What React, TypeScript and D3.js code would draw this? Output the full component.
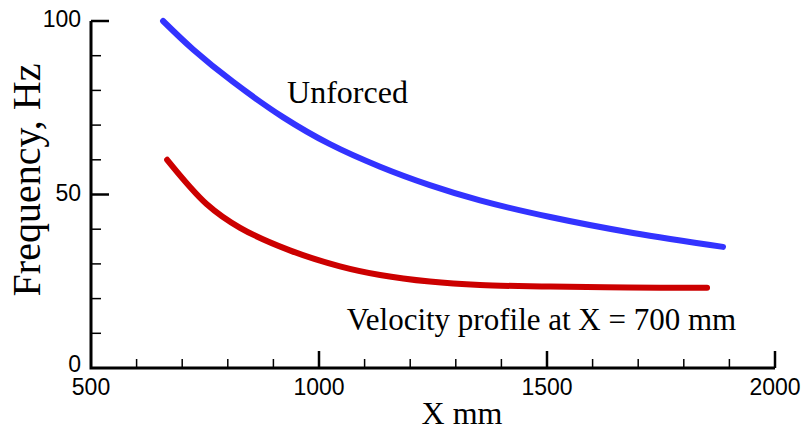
import { useEffect, useRef } from "react";
import * as d3 from "d3";

// values
const unforcedX = [658, 724, 811, 921, 1024, 1134, 1243, 1353, 1507, 1689, 1886];
const unforcedY = [100, 91.8, 82.5, 72.3, 64.5, 58.0, 52.7, 48.3, 43.5, 38.9, 34.9];

const forcedX = [667, 754, 827, 936, 1046, 1134, 1243, 1353, 1507, 1678, 1851];
const forcedY = [60, 47.2, 40.4, 33.9, 29.3, 26.8, 24.9, 23.9, 23.5, 23.2, 23.1];

const xTicks = [500, 1000, 1500, 2000];
const yTicks = [0, 50, 100];

const W = 805;
const H = 430;

const App = () => {
  const ref = useRef<SVGSVGElement>(null);

  useEffect(() => {
    if (!ref.current) return;
    const svg = d3.select(ref.current);
    svg.selectAll("*").remove();

    const x = d3.scaleLinear().domain([500, 2000]).range([91, 775]);
    const y = d3.scaleLinear().domain([0, 100]).range([368, 21]);

    const sans = "'Liberation Sans', Arial, sans-serif";
    const serif = "'Liberation Serif', 'Times New Roman', serif";

    // minor ticks
    const g = svg.append("g");
    g.selectAll(".xminor")
      .data(d3.range(600, 2000, 100).filter((v) => v % 500 !== 0))
      .join("line")
      .attr("x1", (d) => x(d))
      .attr("x2", (d) => x(d))
      .attr("y1", y(0))
      .attr("y2", y(0) - 9)
      .attr("stroke", "#000")
      .attr("stroke-width", 1.5);
    g.selectAll(".yminor")
      .data(d3.range(10, 100, 10).filter((v) => v % 50 !== 0))
      .join("line")
      .attr("x1", x(500))
      .attr("x2", x(500) + 10)
      .attr("y1", (d) => y(d))
      .attr("y2", (d) => y(d))
      .attr("stroke", "#000")
      .attr("stroke-width", 1.5);

    // major ticks
    g.selectAll(".xmajor")
      .data(xTicks.slice(1))
      .join("line")
      .attr("x1", (d) => x(d))
      .attr("x2", (d) => x(d))
      .attr("y1", y(0))
      .attr("y2", y(0) - 17)
      .attr("stroke", "#000")
      .attr("stroke-width", 2.5);
    g.selectAll(".ymajor")
      .data(yTicks.slice(1))
      .join("line")
      .attr("x1", x(500))
      .attr("x2", x(500) + 18)
      .attr("y1", (d) => y(d))
      .attr("y2", (d) => y(d))
      .attr("stroke", "#000")
      .attr("stroke-width", 2.5);

    // axis lines
    g.append("path")
      .attr("d", `M${x(500)},${y(100)}V${y(0)}H${x(2000)}`)
      .attr("fill", "none")
      .attr("stroke", "#000")
      .attr("stroke-width", 3);

    // tick labels
    g.selectAll(".xlab")
      .data(xTicks)
      .join("text")
      .attr("x", (d) => x(d))
      .attr("y", 395)
      .attr("text-anchor", "middle")
      .attr("font-family", sans)
      .attr("font-size", 23)
      .attr("fill", "#000")
      .text((d) => d);
    g.selectAll(".ylab")
      .data(yTicks)
      .join("text")
      .attr("x", 81)
      .attr("y", (d) => y(d) - (d === 0 ? 4 : 2))
      .attr("text-anchor", "end")
      .attr("dominant-baseline", "central")
      .attr("font-family", sans)
      .attr("font-size", 23)
      .attr("fill", "#000")
      .text((d) => d);

    // axis titles
    svg.append("text")
      .attr("x", 462)
      .attr("y", 424)
      .attr("text-anchor", "middle")
      .attr("font-family", serif)
      .attr("font-size", 32)
      .text("X mm");
    svg.append("text")
      .attr("transform", "translate(40,180) rotate(-90)")
      .attr("text-anchor", "middle")
      .attr("font-family", serif)
      .attr("font-size", 40)
      .text("Frequency, Hz");

    // curves
    const line = d3
      .line<[number, number]>()
      .x((d) => x(d[0]))
      .y((d) => y(d[1]))
      .curve(d3.curveCatmullRom.alpha(0.5));

    svg.append("path")
      .datum(unforcedX.map((v, i) => [v, unforcedY[i]] as [number, number]))
      .attr("d", line)
      .attr("fill", "none")
      .attr("stroke", "#3333ff")
      .attr("stroke-width", 6)
      .attr("stroke-linecap", "round");

    svg.append("path")
      .datum(forcedX.map((v, i) => [v, forcedY[i]] as [number, number]))
      .attr("d", line)
      .attr("fill", "none")
      .attr("stroke", "#cc0000")
      .attr("stroke-width", 6)
      .attr("stroke-linecap", "round");

    // annotations
    svg.append("text")
      .attr("x", x(930))
      .attr("y", y(76.4))
      .attr("font-family", serif)
      .attr("font-size", 32)
      .text("Unforced");
    svg.append("text")
      .attr("x", x(1061))
      .attr("y", y(11))
      .attr("font-family", serif)
      .attr("font-size", 31)
      .text("Velocity profile at X = 700 mm");
  }, []);

  return (
    <svg
      ref={ref}
      width={W}
      height={H}
      style={{ position: "absolute", left: 0, top: 0, background: "#fff" }}
    ></svg>
  );
};

export default App;
